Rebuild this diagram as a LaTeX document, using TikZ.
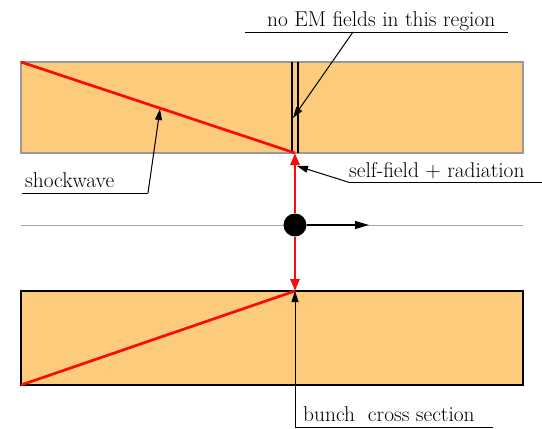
\documentclass[tikz,border=0pt]{standalone}
\usepackage{fontspec}
\usepackage{tikz}
\usetikzlibrary{arrows.meta, positioning, calc}
\definecolor{beam}{RGB}{253,203,124}
\definecolor{wakered}{RGB}{250,10,10}

\tikzset{
  wall/.style={fill=beam,line width=1.5pt},
  wave/.style={wakered,line width=2.7pt},
  lbl/.style={inner sep=0pt,anchor=base west},
  pointer/.style={black,line width=1pt,-{Triangle[length=11pt,width=7pt]}}
}

\begin{document}
\begin{tikzpicture}[x=1pt,y=-1pt,font=\fontsize{21.4}{24}\selectfont]
\useasboundingbox (0,0) rectangle (542,429);
% pipe walls
\draw[wall,draw=gray!80] (21,62) rectangle (523,153);
\draw[wall,draw=black] (21,291) rectangle (523,385);
\draw[gray!70,line width=0.9pt] (21,225) -- (523,225);
% corners and meeting points
\coordinate (UL) at (21,62);
\coordinate (UM) at (295,153);
\coordinate (LL) at (21,385);
\coordinate (LM) at (295,291);
\coordinate (go) at (369,225);
% no-field slab
\draw[line width=1.2pt] (292,62) -- (292,153);
\draw[line width=1.2pt] (298,62) -- (298,153);
\coordinate (slab) at (293,118);
% shockwaves
\draw[wave] (UL) -- (UM);
\draw[wave] (LL) -- (LM);
\node[circle,fill=black,minimum size=23pt,inner sep=0pt] (Q) at (295,225) {};
\draw[wave,-{Triangle[length=12pt,width=9pt]}] (Q) -- (UM);
\draw[wave,-{Triangle[length=12pt,width=9pt]}] (Q) -- (LM);
\draw[line width=1.2pt,-{Triangle[length=14pt,width=8pt]}] (Q.east) -- (go);
% labels
\node[lbl] (EM) at (267,26) {no EM fields in this region};
\draw[line width=0.9pt] (245,32) -- (508,32);
\draw[pointer] (353,32) -- (slab);
\node[lbl] (SW) at (25,187) {shockwave};
\coordinate (SWtip) at (160,109);
\draw[line width=0.9pt] (22,193) -- (148,193);
\draw[pointer] (148,193) -- (SWtip);
\node[lbl] (SF) at (349,177) {self-field + radiation};
\draw[line width=0.9pt] (348,182) -- (542,182);
\draw[pointer] (348,182) -- (297,166);
\node[lbl] (BC) at (303,421) {bunch\ \ cross section};
\coordinate (BCfoot) at (295,427.5);
\draw[line width=0.9pt] (BCfoot) -- (493,427.5);
\draw[pointer] (BCfoot) -- (LM);
\end{tikzpicture}
\end{document}
